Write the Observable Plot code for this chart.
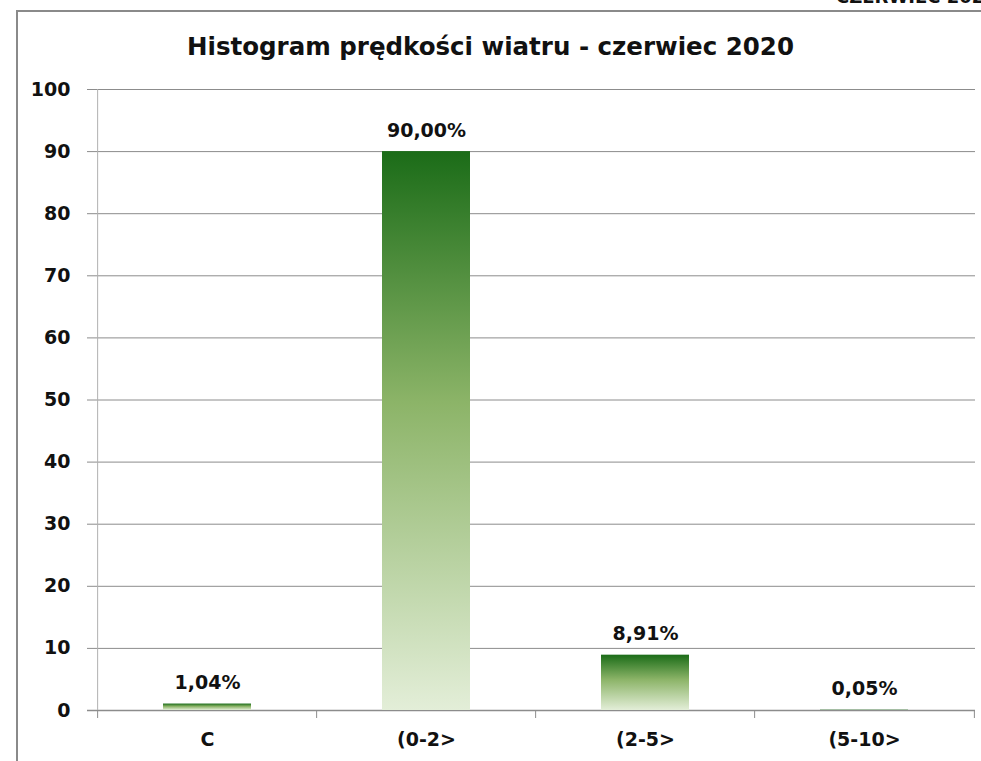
<!DOCTYPE html>
<html>
<head>
<meta charset="utf-8">
<script src="https://cdn.jsdelivr.net/npm/d3@7"></script>
<script src="https://cdn.jsdelivr.net/npm/@observablehq/plot@0.6"></script>
<style>
  html, body { margin: 0; padding: 0; background: #fff; overflow: hidden; }
  #wrap { position: relative; width: 981px; height: 761px; overflow: hidden; font-family: "DejaVu Sans", sans-serif; }
  #frame { position: absolute; left: 16px; top: 10px; width: 1000px; height: 800px; border: 2px solid #8a8a8a; box-sizing: border-box; }
  #corner { position: absolute; left: 836px; top: -14px; white-space: nowrap; font-weight: bold; font-size: 18px; color: #111; }
  #title { position: absolute; left: 0; width: 981px; top: 32px; text-align: center; font-weight: bold; font-size: 24.5px; line-height: 30px; color: #111; }
  #chart { position: absolute; left: 0; top: 0; }
</style>
</head>
<body>
<div id="wrap">
  <div id="frame"></div>
  <div id="corner">CZERWIEC 2020</div>
  <div id="title">Histogram prędkości wiatru - czerwiec 2020</div>
  <div id="chart"></div>
</div>
<script>
const categories = ["C", "(0-2>", "(2-5>", "(5-10>"];
const values = [1.04, 90.00, 8.91, 0.05];
const yTicks = [0, 10, 20, 30, 40, 50, 60, 70, 80, 90, 100];

const data = categories.map((c, i) => ({cat: c, value: values[i]}));
const W = 981, H = 761, mL = 96, mR = 6, mT = 89, mB = 51;
const step = (W - mL - mR) / categories.length;
const fmt = v => v.toFixed(2).replace(".", ",") + "%";

const defs = () => {
  const g = d3.create("svg:defs");
  const lg = g.append("linearGradient").attr("id", "barGrad").attr("x1", 0).attr("y1", 0).attr("x2", 0).attr("y2", 1);
  lg.append("stop").attr("offset", "0%").attr("stop-color", "#1b6c18");
  lg.append("stop").attr("offset", "45%").attr("stop-color", "#8cb468");
  lg.append("stop").attr("offset", "100%").attr("stop-color", "#e3eed8");
  return g.node();
};

const chart = Plot.plot({
  width: W, height: H,
  marginLeft: mL, marginRight: mR, marginTop: mT, marginBottom: mB,
  style: {fontFamily: "DejaVu Sans, sans-serif", fontWeight: "bold", fontSize: "19px", color: "#111", background: "transparent"},
  x: {domain: categories, paddingInner: 0.6, paddingOuter: 0.3, label: null},
  y: {domain: [0, 100], label: null},
  marks: [
    defs,
    Plot.ruleY(yTicks, {y: d => d, stroke: "#8c8c8c", strokeWidth: 1, insetLeft: -9, strokeOpacity: 1}),
    Plot.ruleY([0], {stroke: "#8c8c8c", strokeWidth: 1.5, insetLeft: -9}),
    Plot.ruleX(categories, {x: d => d, dx: -step / 2, y1: 0, y2: 100, stroke: "#b0b0b0", strokeWidth: 1, filter: (d, i) => i === 0}),
    Plot.ruleX(categories, {x: d => d, dx: -step / 2, y1: 0, y2: 0, insetBottom: -8, stroke: "#8c8c8c", strokeWidth: 1}),
    Plot.ruleX([categories[categories.length - 1]], {x: d => d, dx: step / 2, y1: 0, y2: 0, insetBottom: -8, stroke: "#8c8c8c", strokeWidth: 1}),
    Plot.barY(data, {x: "cat", y: "value", fill: "url(#barGrad)"}),
    Plot.text(data, {x: "cat", y: "value", text: d => fmt(d.value), dy: -21, lineAnchor: "middle", fill: "#111", fontSize: 19, fontWeight: "bold"}),
    Plot.axisY(yTicks, {tickSize: 0, tickPadding: 26, fontSize: 19, fontWeight: "bold", label: null}),
    Plot.axisX({tickSize: 0, tickPadding: 22, fontSize: 19, fontWeight: "bold", label: null})
  ]
});
document.getElementById("chart").appendChild(chart);
</script>
</body>
</html>
